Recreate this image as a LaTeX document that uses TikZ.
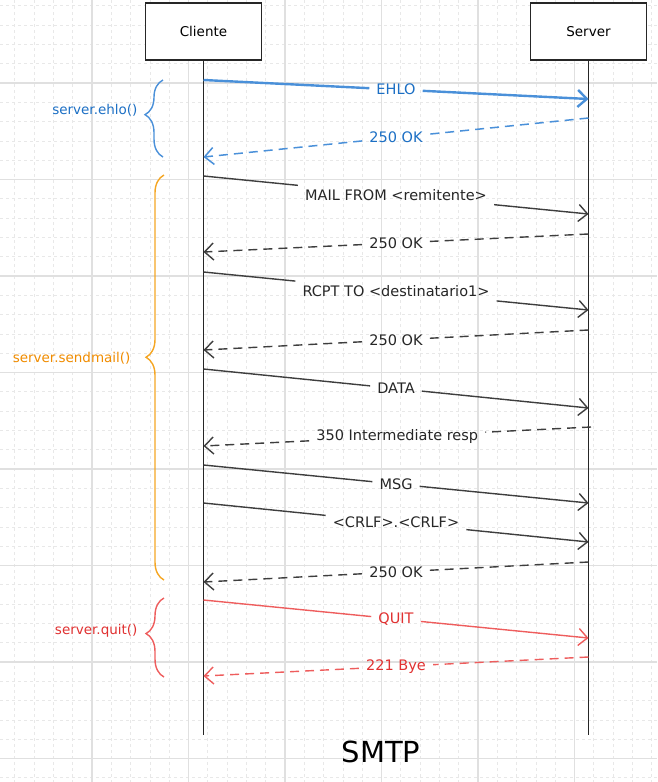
\documentclass[tikz,border=0pt]{standalone}
\usepackage{fontspec}
\setmainfont{DejaVu Sans}
\usetikzlibrary{arrows.meta,decorations.pathreplacing}

\definecolor{gridmajor}{HTML}{E0E0E0}
\definecolor{gridminor}{HTML}{E8E8E8}
\definecolor{ink}{HTML}{3E3E3E}
\definecolor{ehloline}{HTML}{4A90D9}
\definecolor{ehlotext}{HTML}{1C6FC4}
\definecolor{mailline}{HTML}{F5A623}
\definecolor{mailtext}{HTML}{F08C00}
\definecolor{quitline}{HTML}{EE5D5D}
\definecolor{quittext}{HTML}{E03131}

\begin{document}
\begin{tikzpicture}[x=1pt, y=-1pt,
	actor/.style={ draw=black!85, line width=1.2pt, inner sep=0pt, minimum width=116pt, minimum height=57pt, font=\fontsize{13.5}{15}\selectfont },
	lifeline/.style={ draw=black!85, line width=1.2pt },
	call/.style={ draw=ink, line width=1.4pt },
	reply/.style={ call, dash pattern=on 9pt off 6pt },
	bluecall/.style={ draw=ehloline, line width=2.4pt },
	bluereply/.style={ draw=ehloline, line width=1.5pt, dash pattern=on 9pt off 6pt },
	redcall/.style={ draw=quitline, line width=1.4pt },
	redreply/.style={ draw=quitline, line width=1.4pt, dash pattern=on 9pt off 6pt },
	tip/.style={ -{Straight Barb[length=9pt,width=17pt]} },
	msg/.style={ inner xsep=7pt, inner ysep=9pt, font=\fontsize{14.5}{16}\selectfont },
	group/.style={ decorate, decoration={brace, amplitude=18pt, aspect=0.55}, line width=1.4pt },
	grouplbl/.style={ anchor=east, font=\fontsize{13.5}{15}\selectfont },
]
\useasboundingbox (0,0) rectangle (657,782);

% background grid
\foreach \i in {0,...,34} {
	\draw[gridminor, line width=0.8pt, dash pattern=on 3pt off 3pt] (-4.5+19.3*\i,0) -- (-4.5+19.3*\i,782);
}
\foreach \i in {0,...,41} {
	\draw[gridminor, line width=0.8pt, dash pattern=on 3pt off 3pt] (0,-13.5+19.3*\i) -- (657,-13.5+19.3*\i);
}
\foreach \i in {0,...,7} {
	\draw[gridmajor, line width=1.2pt] (-4.5+96.5*\i,0) -- (-4.5+96.5*\i,782);
}
\foreach \i in {0,...,8} {
	\draw[gridmajor, line width=1.2pt] (0,-13.5+96.5*\i) -- (657,-13.5+96.5*\i);
}

% actors and lifelines
\node (cli) [actor, fill=white] at (203.5,31.5) {Cliente};
\node (srv) [actor, fill=white] at (588.5,31.5) {Server};
\coordinate (cliend) at (203.5,735);
\coordinate (srvend) at (588.5,735);
\draw[lifeline] (cli) -- (cliend);
\draw[lifeline] (srv) -- (srvend);

% messages
\foreach \id/\xa/\ya/\xb/\yb/\kind/\tc/\txt in {
	ehlo/203.5/80/588.5/99/bluecall/ehlotext/EHLO,
	okehlo/588.5/118/203.5/157/bluereply/ehlotext/250 OK,
	mail/203.5/176/588.5/214/call/black!85/MAIL FROM <remitente>,
	okmail/588.5/234/203.5/252/reply/black!85/250 OK,
	rcpt/203.5/272/588.5/310/call/black!85/RCPT TO <destinatario1>,
	okrcpt/588.5/330/203.5/350/reply/black!85/250 OK,
	data/203.5/369/588.5/408/call/black!85/DATA,
	resp/591/427/203.5/446/reply/black!85/350 Intermediate resp,
	body/203.5/465/588.5/503/call/black!85/MSG,
	crlf/203.5/503/588.5/542/call/black!85/<CRLF>.<CRLF>,
	okdata/588.5/562/203.5/582/reply/black!85/250 OK,
	quit/203.5/600/588.5/638/redcall/quittext/QUIT,
	bye/588.5/657/203.5/676/redreply/quittext/221 Bye%
} {
	\coordinate (\id-a) at (\xa,\ya);
	\coordinate (\id-b) at (\xb,\yb);
	\path (\id-a) -- (\id-b) node[msg, text=\tc, midway] (\id) {\txt};
	\draw[\kind] (\id-a) -- (\id);
	\draw[\kind, tip] (\id) -- (\id-b);
}

% groups
\draw[group, ehloline] (163,157) -- (163,80);
\node (ehlofn) [grouplbl, text=ehlotext] at (141,110) {server.ehlo()};

\draw[group, mailline] (164,580) -- (164,175);
\node (mailfn) [grouplbl, text=mailtext] at (134,358) {server.sendmail()};

\draw[group, quitline] (164,677) -- (164,598);
\node (quitfn) [grouplbl, text=quittext] at (141,631) {server.quit()};

\node (title) [font=\fontsize{29}{32}\selectfont] at (381,752) {SMTP};

\end{tikzpicture}
\end{document}
